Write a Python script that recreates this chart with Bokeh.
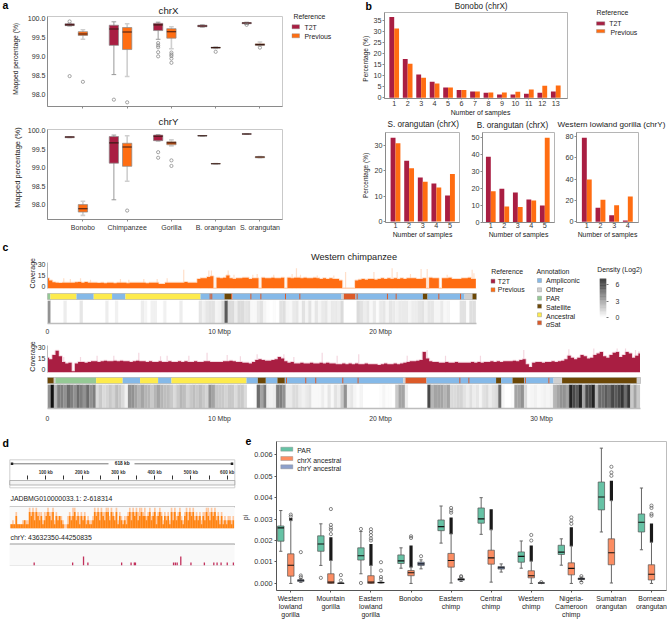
import math
import numpy as np
from bokeh.core.properties import value
from bokeh.embed import file_html
from bokeh.layouts import GridBox
from bokeh.models import ColumnDataSource, FixedTicker, LinearAxis, LinearColorMapper, NumeralTickFormatter, Range1d
from bokeh.palettes import Greys256
from bokeh.plotting import figure
from bokeh.resources import INLINE
from bokeh.transform import transform

T2T = "#a91e42"
PREV = "#ff6d12"
FONT = "Liberation Sans"

# ---- panel a -------------------------------------------------------------
species = ["Bonobo", "Chimpanzee", "Gorilla", "B. orangutan", "S. orangutan"]
ax_t2t_lo = [99.81, 98.53, 99.46, 99.78, 99.85]
ax_t2t_q1 = [99.82, 99.30, 99.69, 99.79, 99.87]
ax_t2t_med = [99.84, 99.73, 99.84, 99.81, 99.89]
ax_t2t_q3 = [99.87, 99.83, 99.88, 99.83, 99.90]
ax_t2t_hi = [99.88, 99.92, 99.91, 99.84, 99.91]
ax_t2t_out = [[98.49, 99.93], [97.87], [99.36, 99.30, 99.25, 99.12, 99.01], [], [99.84]]
ax_prev_lo = [99.46, 98.48, 99.21, 99.22, 99.29]
ax_prev_q1 = [99.56, 99.19, 99.49, 99.23, 99.30]
ax_prev_med = [99.60, 99.65, 99.66, 99.24, 99.32]
ax_prev_q3 = [99.66, 99.77, 99.74, 99.25, 99.34]
ax_prev_hi = [99.71, 99.87, 99.79, 99.26, 99.39]
ax_prev_out = [[98.34], [97.80], [99.11, 99.06, 99.02, 98.95, 98.84], [99.13], [99.24]]

ay_t2t_lo = [99.81, 98.14, 99.72, 99.855, 99.905]
ay_t2t_q1 = [99.81, 99.125, 99.73, 99.855, 99.905]
ay_t2t_med = [99.83, 99.67, 99.85, 99.86, 99.91]
ay_t2t_q3 = [99.84, 99.84, 99.88, 99.865, 99.915]
ay_t2t_hi = [99.84, 99.88, 99.89, 99.865, 99.915]
ay_t2t_out = [[], [], [99.42, 99.27], [], []]
ay_prev_lo = [97.72, 98.64, 99.59, 99.105, 99.27]
ay_prev_q1 = [97.81, 99.04, 99.62, 99.105, 99.27]
ay_prev_med = [97.90, 99.56, 99.67, 99.11, 99.29]
ay_prev_q3 = [98.01, 99.66, 99.70, 99.115, 99.30]
ay_prev_hi = [98.10, 99.86, 99.75, 99.115, 99.30]
ay_prev_out = [[], [97.85], [99.20, 99.05], [], []]

# ---- panel b -------------------------------------------------------------
b1_t2t = [36.8, 17.7, 10.6, 7.3, 4.7, 3.5, 2.9, 2.3, 1.5, 1.5, 1.8, 2.3, 2.9]
b1_prev = [31.5, 15.5, 9.1, 6.5, 4.7, 3.5, 2.9, 2.4, 2.4, 2.7, 3.8, 5.5, 5.6]
b2_t2t = [33.0, 23.9, 17.3, 15.0, 10.2]
b2_prev = [30.8, 21.0, 15.7, 13.4, 18.7]
b3_t2t = [38.6, 19.7, 17.5, 13.4, 9.8]
b3_prev = [18.3, 9.2, 8.9, 12.8, 49.8]
b4_t2t = [78.8, 13.1, 6.2, 1.2]
b4_prev = [39.6, 20.6, 15.6, 23.7]

# ---- panel c -------------------------------------------------------------
XMIN = -0.68
ann_names = ["Ampliconic", "Other", "PAR", "Satellite", "Ancestral", "aSat"]
ann_colors = {"Ampliconic": "#85b9e8", "Other": "#cfcfcf", "PAR": "#95c995",
              "Satellite": "#6b4706", "Ancestral": "#fdeb4d", "aSat": "#dc5a28"}
c1_ann = [(-0.68, -0.5, "PAR"), (-0.5, 1.12, "Ancestral"), (1.12, 2.19, "Ampliconic"), (2.19, 3.33, "Ancestral"),
          (3.33, 4.16, "Ampliconic"), (4.16, 8.82, "Ancestral"), (8.82, 10.31, "Ampliconic"), (10.31, 10.72, "Satellite"),
          (10.72, 10.81, "aSat"), (10.81, 17.58, "Ampliconic"), (17.58, 17.72, "Other"), (17.72, 18.45, "aSat"),
          (18.45, 22.63, "Ampliconic"), (22.63, 22.92, "Satellite"), (22.92, 25.22, "Ampliconic"),
          (25.22, 25.71, "Other"), (25.71, 25.96, "Satellite")]
c1_lines = [9.42, 9.52, 11.95, 12.57, 14.10, 14.99, 18.55, 20.43, 20.97, 23.62, 24.97]
c2_ann = [(-0.68, -0.29, "Satellite"), (-0.29, -0.19, "Other"), (-0.19, 2.34, "PAR"), (2.34, 3.99, "Ancestral"),
          (3.99, 5.07, "Ampliconic"), (5.07, 6.19, "Ancestral"), (6.19, 7.02, "Ampliconic"), (7.02, 11.68, "Ancestral"),
          (11.68, 12.38, "Ampliconic"), (12.38, 12.88, "Satellite"), (12.88, 13.60, "Ampliconic"),
          (13.60, 14.06, "Satellite"), (14.06, 21.41, "Ampliconic"), (21.41, 21.55, "Other"), (21.55, 22.86, "aSat"),
          (22.86, 27.18, "Ampliconic"), (27.18, 27.49, "Satellite"), (27.49, 28.2, "Ampliconic"),
          (28.2, 28.92, "Satellite"), (28.92, 30.52, "Ampliconic"), (30.52, 30.75, "Ampliconic"),
          (30.75, 31.28, "Other"), (31.28, 35.92, "Satellite"), (35.92, 36.15, "Other")]
c2_lines = [14.16, 15.36, 15.98, 17.66, 18.61, 24.93, 25.49, 29.0, 30.46]

# coverage and density, one value every 0.2 Mbp from the left edge
c1_cov = [11,8,5.5,5,4.5,5,5,5,5,5.5, 6,5,6,5,5,5,4.5,5,4,5, 5,4,5,5,5,4,5,5,5,5, 5,4,5,5,5,3,3,5,5,5,
          5,5,5,6,5,5,5,10,11,11, 13,14,-3,12,11,12,15,11,10,11, 11,12,12,10,11,11,-3,12,11,11,
          12,11,11,12,-3,12,11,12,12,11, 12,11,11,12,11,10,11,10,11,10, 10,8,-3,-3,-3,-3,8,9,10,9,
          10,10,9,10,11,10,11,10,11,10, 11,10,11,11,11,10,10,11,-3,12, 11,11,-3,11,11,12,10,10,10,11, 11,12,10,10]
c1_spike_x = [0.33,0.74,1.37,1.99,3.85,4.37,5.3,6.13,6.75,7.78,8.82,9.34,9.5,10.54,10.9,12.07,12.34,13.37,14.51,14.78,
              15.03,16.07,17.1,17.83,19.59,20.72,21.03,21.86,22.52,22.9,24.14,25.69,25.8]
c1_spike_y = [11,10,11,9,10,9,10,10,11,23,12,22,22,22,16,16,17,16,17,25,16,15,15,20,20,25,20,17,24,24,16,23,18]
c1_dens = [3,0,0,0,0,.5,0,0,0,0, .7,0,0,0,0,0,0,0,.5,0, 0,.4,0,0,0,0,0,0,0,.5, .3,0,.4,.4,0,0,.4,0,0,0,
           0,.5,0,0,0,0,0,.7,.4,.7, .8,.8,.3,.4,1,4.5,1,1,.5,1, 1,.7,.8,.2,.2,.6,.8,.3,.1,0, .1,0,.8,.9,.3,.2,.6,.7,.2,.8,
           .3,.8,.2,.7,.3,.6,.7,.3,.6,.6, .5,1,0,0,0,0,1,.8,.5,.7, .2,.6,.1,.6,.7,.3,.7,.6,.4,.6,
           .6,.6,.3,.5,.5,.7,.8,.4,.7,.7, .3,.3,.6,.2,.3,0,0,0,.8,.8, .1,.9,.9]
c2_cov = [16,14,20,26,18,10,8,9,-3,8, 10,10,9,10,11,11,10,11,12,11, 11,12,11,12,11,11,10,11,12,11,
          11,10,11,10,10,11,10,10,11,10, 10,11,10,11,10,10,11,10,10,11, 11,10,10,10,10,11,11,12,11,10,
          10,9,9,8,10,13,14,13,12,12, 13,14,17,15,11,9,10,8,8,9, 8,8,9,8,8,9,8,9,8,8,
          7,7,8,7,8,7,8,7,7,8, 7,7,7,6,7,8,7,7,8,7, 8,9,10,11,11,12,13,24,15,11,
          10,10,9,9,10,9,9,10,9,9, 9,9,10,9,10,9,10,10,11,10, 11,10,11,11,11,12,11,13,14,7,
          3,9,10,10,9,10,10,11,10,11, 12,14,19,16,14,16,20,18,15,16, 20,22,24,18,16,20,23,24,17,20, 24,22,16,19,22]
c2_spike_x = [0.33,1.37,2.4,3.44,4.99,6.34,6.75,8.1,9.23,10.48,11.3,12.34,14,14.62,16.38,17.31,18.65,21.66,22.9,24.04,
              26.21,28.9,31.7,33.25,34.7,35.22,35.84,36.05]
c2_spike_y = [17,17,19,19,23,18,19,19,23,20,18,21,21,17,23,19,21,19,27,19,19,27,28,29,29,29,27,25]
c2_dens = [3,6.5,2,3.5,3.5,3,4,3.5,3,4, 3.5,3,4,3,3.5,1,1.5,1,1.2,1.5, 1.2,1.8,1.5,1,.4,3,3,2.5,2,2.5,
           2,2,1.5,2,2.5,2,1.8,1.8,1.5,1, 1.5,2,1.8,1.2,1.5,1.8,1.5,1.8,1.5,1.2, 3,2.5,1.5,1.5,1.5,1.2,1.5,1.5,1,1.5,
           1.5,1,0,0,.1,4,2.5,3.5,.5,.4, .5,3.5,3.5,3,.6,.6,1,1,.6,.4, .6,.8,.2,.2,.2,.5,.2,.7,.2,.8,
           .5,1.5,3,.5,.7,.3,.1,.3,0,0, 0,0,0,.1,.3,.1,.1,0,1.5,2.5, 2.5,.5,0,0,0,0,0,0,5,2,
           2.5,2.5,2.5,2,2.5,1,1,1.2,1.2,.8, .5,.9,.5,.7,.3,.8,1,.5,.8,1, 4,.3,0,0,.1,2.5,2.5,3,1,.2,
           .3,.4,.2,.3,.4,.3,.4,2,2.5,3, 3,2.5,6,5,4.5,6,2.5,5,5,6, 2,4,4,4.5,4,5,4.5,5,5.5,4, 5.5,1.5,2.5,1.5]

# ---- panel d -------------------------------------------------------------
d_ticks_major = [100, 200, 300, 400, 500, 600]
d_ticks_minor = [50, 150, 250, 350, 450, 550]
d_solid = [1,1,1,3,1,1,1,1,2,1, 1,4,3,4,2,4,3,2,3,1, 2,3,4,3,2,4,1,3,2,3, 2,1,0,0,1,3,2,3,4,2,
           3,1,3,2,3,1,2,1,1,2, 4,3,4,2,4,3,2,4,4,2, 4,3,2,4,1,3,2,1,2,1, 3,4,2,4,3,4,2,3,4,3,
           3,2,3,4,2,3,4,1,3,4, 3,1,3,2,3,1,4,2,4,2, 3,4,2,1,3,4,2,4,3,4, 2,3,2,3,1,3,2,4,3,2,
           4,3,4,2,3,1,3,1,2,1, 2,2,1,2]
d_pale = [1,2,1,4,1,1,1,2,2,2, 2,5,4,5,4,5,4,4,4,2, 4,4,5,4,4,5,2,4,3,3, 3,2,1,1,3,4,3,5,5,3,
          4,3,4,3,4,2,3,2,2,3, 5,4,5,4,5,4,4,5,5,3, 5,4,3,5,2,4,3,2,3,3, 4,5,4,5,4,5,4,5,5,4,
          5,3,4,5,3,4,5,3,4,5, 4,2,4,3,4,2,5,4,5,3, 4,5,3,2,4,5,4,5,4,5, 3,4,3,4,2,4,4,5,5,4,
          5,4,5,3,4,2,4,2,3,2, 3,3,2,3]
dy_kb = [68, 174, 204, 216, 309, 335, 344, 347, 452, 457, 462, 472, 500, 537, 563, 572, 583, 600, 617]
dy_h = [1, 1, 3, 1, 1, 1, 1, 1, 1, 1, 1, 3, 1, 1, 1, 1, 1, 1, 1]

# ---- panel e (pi x 1000) -------------------------------------------------
e_cats = ["Western\nlowland\ngorilla", "Mountain\ngorilla", "Eastern\nlowland\ngorilla", "Bonobo", "Eastern\nchimp",
          "Central\nchimp", "Western\nchimp", "Nigeria-\nCameroon\nchimp", "Sumatran\norangutan", "Bornean\norangutan"]
par_lo = [1.50, .84, .45, .71, 1.88, 2.29, .71, .85, 2.40, 1.57]
par_q1 = [1.97, 1.50, 1.09, .93, 2.46, 2.81, .99, 1.35, 3.43, 2.40]
par_med = [2.59, 1.84, 1.29, 1.05, 2.65, 3.01, 1.26, 1.46, 4.03, 2.85]
par_q3 = [2.68, 2.22, 1.66, 1.33, 2.96, 3.52, 1.47, 1.78, 4.73, 3.24]
par_hi = [3.40, 2.78, 2.42, 1.66, 3.61, 4.00, 1.98, 2.08, 6.31, 4.45]
par_out = [[], [.26], [2.54, .02], [], [], [], [], [], [], []]
chx_lo = [0, 0, 0, 0, .02, .06, 0, 0, .02, 0]
chx_q1 = [.34, 0, 0, .36, .76, .90, .26, .40, .87, .16]
chx_med = [.85, .06, .06, .50, 1.07, 1.19, .36, .70, 1.43, .43]
chx_q3 = [1.38, .45, .36, .60, 1.40, 1.55, .59, .96, 2.08, .87]
chx_hi = [2.93, 1.07, .84, .76, 2.31, 2.50, 1.04, 1.74, 3.86, 1.92]
chx_dense_top = [3.05, 2.15, 1.84, 1.77, 3.08, 3.46, 1.77, 2.62, 4.79, 2.80]
chx_out = [[3.21, 3.12], [3.47, 2.73, 2.6, 2.5, 2.3], [2.53, 2.4, 2.25, 2.1, 2.0], [2.2, 2.12], [3.52, 3.4, 3.3], [],
           [2.26, 2.0], [3.08, 2.93, 2.78], [5.44, 5.18, 5.02], [3.63, 3.52, 3.24, 3.16]]
chy_lo = [.05, .01, .02, .68, .09, .53, 0, .09]
chy_q1 = [.09, 0, .02, .84, .15, .67, .01, .18]
chy_med = [.15, .01, .04, .91, .19, .73, .02, .21]
chy_q3 = [.17, .02, .05, .99, .22, .79, .03, .25]
chy_hi = [.22, .03, .07, 1.1, .26, .91, .05, .30]
chy_out = [[1.46, .37, .29], [.39, .14], [.99, .6, .3, .19], [1.27], [.34, .29], [], [.06], [.34, .05]]

# -------------------------------------------------------------------------
figs = []


def panel(x0, y0, x1, y1, xr, yr, l=50, r=12, t=14, b=40):
    """A figure whose plot frame covers pixels x0..x1, y0..y1 of the page."""
    p = figure(width=l + (x1 - x0) + r, height=t + (y1 - y0) + b, x_range=Range1d(*xr), y_range=Range1d(*yr),
               output_backend="svg", toolbar_location=None, min_border_left=l, min_border_right=r,
               min_border_top=t, min_border_bottom=b, tools="", frame_align=False,
               margin=(y0 - t, 0, 0, x0 - l))
    p.border_fill_color = None
    p.background_fill_color = None
    p.grid.visible = False
    p.outline_line_color = None
    figs.append(p)
    return p


def style_axis(ax, size="7.2px", color="#333333", line="#8a8a8a", standoff=2, tick=2):
    ax.major_label_text_font = FONT
    ax.major_label_text_font_size = size
    ax.major_label_text_color = color
    ax.axis_line_color = line
    ax.major_tick_line_color = line
    ax.major_tick_in = 0
    ax.major_tick_out = tick
    ax.minor_tick_line_color = None
    ax.major_label_standoff = standoff


def boxes(p, xs, lo, q1, med, q3, hi, color, width, whisk="#999999", whisk_w=1.0, edge="#8a8a8a", med_c="#3a1a14"):
    p.segment(xs, lo, xs, hi, line_color=whisk, line_width=whisk_w)
    hw = width / 4
    p.segment([x - hw for x in xs], lo, [x + hw for x in xs], lo, line_color=whisk, line_width=whisk_w)
    p.segment([x - hw for x in xs], hi, [x + hw for x in xs], hi, line_color=whisk, line_width=whisk_w)
    p.vbar(x=xs, width=width, bottom=q1, top=q3, fill_color=color, line_color=edge, line_width=0.7)
    p.segment([x - width / 2 for x in xs], med, [x + width / 2 for x in xs], med, line_color=med_c, line_width=1.1)


def outliers(p, xs, out, color="#808080", size=3.2):
    ox = [x for x, vals in zip(xs, out) for _ in vals]
    oy = [v for vals in out for v in vals]
    if ox:
        p.scatter(ox, oy, marker="circle", size=size, fill_color=None, line_color=color, line_width=0.7)


def panel_a(y0, y1, yr, t2t, prev, labels):
    p = panel(47, y0, 282, y1, (-0.8, 4.51), yr)
    p.outline_line_color = "#c9c9c9"
    n = range(len(species))
    boxes(p, [i - 0.3 for i in n], *t2t[:5], T2T, 0.21)
    outliers(p, [i - 0.3 for i in n], t2t[5])
    boxes(p, list(n), *prev[:5], PREV, 0.21, whisk="#cfcfcf", whisk_w=1.6)
    outliers(p, list(n), prev[5])
    style_axis(p.yaxis[0], "7.1px", tick=0)
    p.yaxis[0].ticker = FixedTicker(ticks=[98, 98.5, 99, 99.5, 100])
    p.yaxis[0].formatter = NumeralTickFormatter(format="0.0")
    style_axis(p.xaxis[0], "7px", standoff=2)
    p.xaxis[0].ticker = FixedTicker(ticks=list(n))
    if labels:
        p.xaxis[0].major_label_overrides = {i: s for i, s in enumerate(species)}
    else:
        p.xaxis[0].major_label_overrides = {i: " " for i in n}


def panel_b(x0, y0, x1, y1, xr, yr, t2t, prev, yticks, size="7.2px", x_gap=0, x_tick=0):
    p = panel(x0, y0, x1, y1, xr, yr)
    p.outline_line_color = "#b5b5b5"
    xs = list(range(1, len(t2t) + 1))
    p.vbar(x=[x - 0.18 for x in xs], width=0.36, top=t2t, bottom=0, fill_color=T2T, line_color=None)
    p.vbar(x=[x + 0.18 for x in xs], width=0.36, top=prev, bottom=0, fill_color=PREV, line_color=None)
    style_axis(p.xaxis[0], size, standoff=x_gap, tick=x_tick)
    style_axis(p.yaxis[0], size, standoff=1, tick=2)
    p.xaxis[0].ticker = FixedTicker(ticks=xs)
    p.yaxis[0].ticker = FixedTicker(ticks=yticks)


def cov_panel(y0, y1, x1, xmax, yr, vals, sx, sy, color, pale):
    p = panel(47, y0, x1, y1, (XMIN, xmax), yr)
    xs = [XMIN + 0.2 * i for i in range(len(vals))]
    p.segment(sx, [yr[0]] * len(sx), sx, sy, line_color=pale, line_width=1.2, line_alpha=0.6)
    p.step(xs, vals, mode="center", line_color=pale, line_width=2.0, line_alpha=0.6)
    p.varea_step(x=xs, y1=[yr[0]] * len(xs), y2=vals, step_mode="center", fill_color=color)
    p.segment([XMIN], [yr[0]], [xmax], [yr[0]], line_color=pale, line_width=1.0)
    p.xaxis.visible = False
    style_axis(p.yaxis[0], "7px", line="#bdbdbd", tick=0)
    p.yaxis[0].ticker = FixedTicker(ticks=[0, 15, 30])


def ann_panel(y0, y1, x1, xmax, segs, lines):
    p = panel(47, y0, x1, y1, (XMIN, xmax), (0, 1))
    p.quad(left=[s[0] for s in segs], right=[s[1] for s in segs], bottom=0, top=1,
           fill_color=[ann_colors[s[2]] for s in segs], line_color=None)
    p.segment(lines, [0] * len(lines), lines, [1] * len(lines), line_color=ann_colors["aSat"], line_width=1.0)
    p.outline_line_color = "#b0b0b0"
    p.outline_line_width = 0.8
    p.xaxis.visible = False
    p.yaxis.visible = False


GREY = LinearColorMapper(palette=list(reversed(Greys256)), low=0, high=7)


def dens_panel(y0, y1, x1, xmax, vals, ticks, gap):
    p = panel(47, y0, x1, y1, (XMIN, xmax), (0, 1))
    lefts = [XMIN + 0.2 * i for i in range(len(vals))]
    src = ColumnDataSource(dict(left=lefts, right=[v + 0.2 for v in lefts], d=vals))
    p.quad(left="left", right="right", bottom=0, top=1, source=src, fill_color=transform("d", GREY),
           line_color=transform("d", GREY), line_width=0.2)
    p.yaxis.visible = False
    style_axis(p.xaxis[0], "6.8px", line="#bdbdbd", standoff=gap, tick=0)
    p.xaxis[0].axis_line_width = 1.5
    p.xaxis[0].ticker = FixedTicker(ticks=[XMIN] + ticks)
    labels = {XMIN: "0"}
    labels.update({t: f"{t} Mbp" for t in ticks})
    p.xaxis[0].major_label_overrides = labels


# overlay for titles, axis names and legends, in page pixels
ov = figure(width=667, height=619, x_range=Range1d(0, 667), y_range=Range1d(619, 0), output_backend="svg",
            toolbar_location=None, min_border=0, tools="", margin=(0, 0, 0, 0), frame_align=False)
ov.xaxis.visible = False
ov.yaxis.visible = False
ov.grid.visible = False
ov.outline_line_color = None
ov.border_fill_color = None
ov.background_fill_color = None
figs.append(ov)


def txt(x, y, s, size, align="left", color="#222222", style="normal", rot=False):
    ov.text([x], [y], text=[s], text_font=value(FONT), text_font_size=value(f"{size}px"), text_align=align,
            text_baseline="middle", text_color=color, text_font_style=style, angle=math.pi / 2 if rot else 0)


def sw(x0, y0, x1, y1, color):
    ov.quad(left=[x0], right=[x1], top=[y0], bottom=[y1], fill_color=color, line_color="#888888", line_width=0.4)


# panel letters
for x, y, s in [(2, 4, "a"), (365, 5, "b"), (2, 246, "c"), (2, 442, "d"), (245, 440, "e")]:
    txt(x, y, s, 10.5, style="bold", color="#000000")

# a
panel_a(16, 106, (97.69, 100.06), (ax_t2t_lo, ax_t2t_q1, ax_t2t_med, ax_t2t_q3, ax_t2t_hi, ax_t2t_out),
        (ax_prev_lo, ax_prev_q1, ax_prev_med, ax_prev_q3, ax_prev_hi, ax_prev_out), False)
panel_a(129, 219, (97.61, 100.03), (ay_t2t_lo, ay_t2t_q1, ay_t2t_med, ay_t2t_q3, ay_t2t_hi, ay_t2t_out),
        (ay_prev_lo, ay_prev_q1, ay_prev_med, ay_prev_q3, ay_prev_hi, ay_prev_out), True)
txt(168, 10, "chrX", 9.7, "center")
txt(168, 121, "chrY", 9.7, "center")
txt(15, 58.3, "Mapped percentage (%)", 6.7, "center", rot=True)
txt(17.3, 167, "Mapped percentage (%)", 7.5, "center", rot=True)
txt(293, 15.7, "Reference", 6.9)
sw(291.5, 24.3, 299, 28.3, T2T)
txt(304, 26.7, "T2T", 6.9)
sw(291.5, 33.3, 299, 37.3, PREV)
txt(304, 36, "Previous", 6.9)

# b
panel_b(384, 12, 567, 98, (0.28, 13.87), (-0.32, 38.8), b1_t2t, b1_prev, [0, 5, 10, 15, 20, 25, 30, 35], x_gap=1, x_tick=1)
panel_b(385, 132, 459, 222, (0.265, 5.7), (-0.39, 35.04), b2_t2t, b2_prev, [0, 10, 20, 30])
panel_b(482, 132, 554, 222, (0.385, 5.72), (-0.18, 52.9), b3_t2t, b3_prev, [0, 10, 20, 30, 40, 50])
panel_b(576, 132, 638, 222, (0.247, 4.78), (-0.65, 83.8), b4_t2t, b4_prev, [0, 20, 40, 60, 80])
txt(480.7, 5.7, "Bonobo (chrX)", 8.2, "center")
txt(422.7, 124, "S. orangutan (chrX)", 8.2, "center")
txt(512, 125, "B. orangutan (chrX)", 8.2, "center")
txt(611, 124, "Western lowland gorilla (chrY)", 8.1, "center")
txt(365, 58.3, "Percentage (%)", 6.6, "center", rot=True)
txt(365, 175, "Percentage (%)", 6.5, "center", rot=True)
txt(480, 111.7, "Number of samples", 6.9, "center")
txt(422, 234.3, "Number of samples", 6.9, "center")
txt(518, 234.3, "Number of samples", 6.9, "center")
txt(607, 234.3, "Number of samples", 6.9, "center")
txt(596, 12.3, "Reference", 6.9)
sw(596, 21.3, 604.3, 24.7, T2T)
txt(608.7, 23.3, "T2T", 6.9)
sw(596, 29, 604.3, 32.3, PREV)
txt(610, 31.7, "Previous", 6.9)

# c
cov_panel(262, 288, 476, 25.96, (-3.2, 33.2), c1_cov, c1_spike_x, c1_spike_y, PREV, "#ffc9a6")
ann_panel(293, 299, 476, 25.96, c1_ann, c1_lines)
dens_panel(300, 323, 476, 25.96, c1_dens, [10, 20], 4)
cov_panel(345, 372, 640, 36.15, (-4.6, 33.2), c2_cov, c2_spike_x, c2_spike_y, T2T, "#edbccb")
ann_panel(377, 383, 640, 36.15, c2_ann, c2_lines)
dens_panel(384, 408, 640, 36.15, c2_dens, [10, 20, 30], 6)
txt(353.5, 256, "Western chimpanzee", 9.2, "center")
txt(31.7, 272.7, "Coverage", 7, "center", rot=True)
txt(31.7, 356, "Coverage", 7, "center", rot=True)
txt(490.7, 271, "Reference", 6.9)
sw(490.5, 278.7, 494.5, 282.7, T2T)
txt(497.3, 280.7, "T2T", 6.9)
sw(490.5, 287.3, 494.5, 291.3, PREV)
txt(497.3, 289.3, "Previous", 6.9)
txt(536, 270.7, "Annotation", 6.9)
ann_y = [279.7, 289, 298.3, 307, 315.7, 323.7]
sw_y = [280, 289.3, 297.7, 305.7, 314.3, 322.3]
for nm, ty, sy in zip(ann_names, ann_y, sw_y):
    sw(537, sy - 2, 541, sy + 2, ann_colors[nm])
    if nm == "aSat":
        txt(545.5, ty, "α", 7, style="italic")
        txt(549.5, ty, "Sat", 7)
    else:
        txt(545.5, ty, nm, 7)
txt(596.7, 269.3, "Density (Log2)", 6.9)
cb = panel(599, 278, 606, 318, (0, 1), (-0.13, 7.15), l=4, r=24, t=4, b=4)
levels = list(np.arange(0, 7.2, 0.1))
cb_src = ColumnDataSource(dict(bottom=levels, top=[v + 0.1 for v in levels], d=levels))
cb.quad(left=0, right=1, bottom="bottom", top="top", source=cb_src, fill_color=transform("d", GREY), line_color=None)
cb.xaxis.visible = False
cb.yaxis.visible = False
cb_axis = LinearAxis(ticker=FixedTicker(ticks=[0, 3, 6]))
style_axis(cb_axis, "7px", line=None, standoff=7, tick=2)
cb_axis.major_tick_line_color = "#777777"
cb.add_layout(cb_axis, "right")

# d
ruler = panel(9, 476, 234, 487, (0, 620), (0, 1), l=4, r=6, t=10, b=4)
ruler.xaxis.visible = False
ruler.yaxis.visible = False
r_axis = LinearAxis(ticker=FixedTicker(ticks=d_ticks_major, minor_ticks=d_ticks_minor))
style_axis(r_axis, "4.6px", line=None, standoff=1, tick=1)
r_axis.major_label_text_font_style = "bold"
r_axis.major_tick_line_color = "#333333"
r_axis.major_tick_in = 3
r_axis.minor_tick_line_color = "#333333"
r_axis.minor_tick_in = 3
r_axis.minor_tick_out = 1
r_axis.major_label_overrides = {t: f"{t} kb" for t in d_ticks_major}
ruler.add_layout(r_axis, "above")
ov.quad(left=[9.3], right=[234.3], top=[459.3], bottom=[487.3], fill_color=None, line_color="#c4c4c4", line_width=0.8)
ov.segment([11], [463.3], [108], [463.3], line_color="#777777", line_width=1.0)
ov.segment([134], [463.3], [232], [463.3], line_color="#777777", line_width=1.0)
ov.scatter([11.5, 231.5], [463.3, 463.3], marker="square", size=2.5, fill_color="#222222", line_color=None)
ov.quad(left=[9.3], right=[234.3], top=[480], bottom=[484.5], fill_color="#f4f4f4", line_color="#9a9a9a", line_width=0.7)
txt(121.7, 463.3, "618 kb", 4.8, "center", style="bold")
txt(10, 497.7, "JADBMG010000033.1: 2-618314", 6.9)
txt(10, 537, "chrY: 43632350-44250835", 6.9)

d1 = panel(9, 506, 234, 528, (0, 620), (0, 5.3), l=4, r=6, t=4, b=4)
d1.background_fill_color = "#f9f9f9"
dx = [2.6 + 2.3 + 4.6 * i for i in range(len(d_solid))]
d1.vbar(x=dx, width=4.6, bottom=0, top=d_pale, fill_color="#ffc79f", line_color=None)
d1.vbar(x=dx, width=4.6, bottom=0, top=d_solid, fill_color="#ff8412", line_color=None)
d1.xaxis.visible = False
d1.yaxis.visible = False
ov.segment([9.3], [506.3], [234.3], [506.3], line_color="#9a9a9a", line_width=1.4)

d2 = panel(9, 544, 234, 565, (0, 620), (0, 7), l=4, r=6, t=4, b=4)
d2.background_fill_color = "#f9f9f9"
d2.vbar(x=dy_kb, width=3.6, bottom=0, top=dy_h, fill_color="#c2305c", line_color=None)
d2.xaxis.visible = False
d2.yaxis.visible = False
ov.segment([9.3], [543.7], [234.3], [543.7], line_color="#9a9a9a", line_width=1.4)
ov.segment([9.3], [565], [234.3], [565], line_color="#cfcfcf", line_width=0.8)

# e
E = panel(276, 441, 666, 590, (-0.357, 9.375), (-0.33, 6.62), l=40, r=1, t=4, b=20)
E.outline_line_color = "#bdbdbd"
cats = list(range(len(e_cats)))
COL_PAR, COL_X, COL_Y = "#66c2a5", "#fc8d62", "#8da0cb"
par_x = [c - 0.25 for c in cats]
boxes(E, par_x, par_lo, par_q1, par_med, par_q3, par_hi, COL_PAR, 0.16, whisk="#666666", edge="#555555", med_c="#111111")
outliers(E, par_x, par_out, "#555555")
chx_x = cats
E.segment(chx_x, chx_hi, chx_x, chx_dense_top, line_color="#1a1a1a", line_width=3.2)
boxes(E, chx_x, chx_lo, chx_q1, chx_med, chx_q3, chx_hi, COL_X, 0.16, whisk="#666666", edge="#555555", med_c="#111111")
outliers(E, chx_x, chx_out, "#555555")
chy_x = [c + 0.25 for c in cats[:len(chy_q1)]]
boxes(E, chy_x, chy_lo, chy_q1, chy_med, chy_q3, chy_hi, COL_Y, 0.16, whisk="#666666", edge="#555555", med_c="#111111")
outliers(E, chy_x, chy_out, "#555555")
style_axis(E.yaxis[0], "7.3px", line="#555555", tick=2, standoff=2)
E.yaxis[0].ticker = FixedTicker(ticks=[0, 1, 2, 3, 4, 5, 6])
E.yaxis[0].major_label_overrides = {i: f"{i / 1000:.3f}" for i in range(7)}
style_axis(E.xaxis[0], "6.9px", line="#555555", tick=2, standoff=4)
E.xaxis[0].ticker = FixedTicker(ticks=cats)
E.xaxis[0].major_label_overrides = {c: " " for c in cats}
for c, label in enumerate(e_cats):
    for k, line in enumerate(label.split("\n")):
        txt(290 + 40.1 * c, 597.7 + 8.3 * k, line, 6.9, "center")
txt(245, 517, "pi", 6.5, "center", rot=True)
for y, s, c in [(448.7, "PAR", COL_PAR), (458, "chrX ancestral", COL_X), (466.3, "chrY ancestral", COL_Y)]:
    sw(280.3, y - 2, 292.3, y + 2, c)
    txt(296.7, y + 1.5, s, 6.9)

root = GridBox(children=[(f, 0, 0) for f in figs], spacing=0, margin=(0, 0, 0, 0))
open("out.html", "w").write(file_html(root, INLINE))
